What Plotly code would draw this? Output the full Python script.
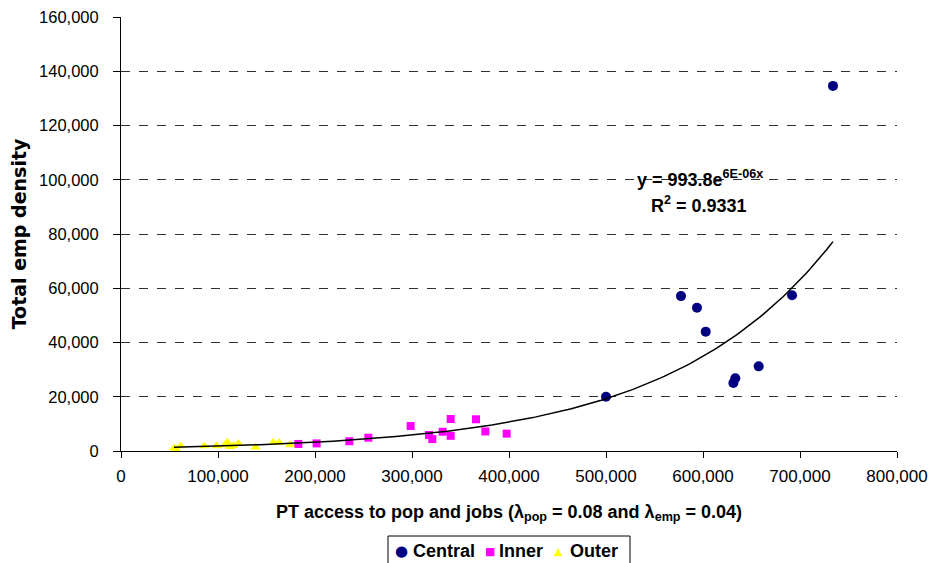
import numpy as np
import plotly.graph_objects as go

# PT accessibility (x) vs total employment density (y), by zone type
central_x = [500000, 577300, 593800, 602800, 657400, 633300, 631300, 691800, 734000]
central_y = [20000, 57100, 52800, 44000, 31200, 26800, 25100, 57400, 134600]

inner_x = [182800, 201700, 235400, 255000, 298600, 317500, 320900, 331600,
           339900, 339900, 366000, 375600, 397600]
inner_y = [2600, 2800, 3600, 4900, 9200, 5900, 4400, 7100,
           11800, 5600, 11700, 7200, 6400]

outer_x = [54600, 56700, 61400, 85900, 98600, 107200, 109600, 112400,
           115800, 121000, 138800, 157000, 163200, 174200]
outer_y = [1100, 600, 1800, 1800, 1800, 2200, 3200, 1600,
           1900, 2800, 1400, 3100, 3100, 2200]

# exponential trendline y = a * exp(b x)
trend_a = 993.8
trend_b = 5.93e-6
r_squared = 0.9331

x_ticks = [0, 100000, 200000, 300000, 400000, 500000, 600000, 700000, 800000]
y_ticks = [0, 20000, 40000, 60000, 80000, 100000, 120000, 140000, 160000]

series_names = ["Central", "Inner", "Outer"]
series_colors = ["#000080", "#FF00FF", "#FFFF00"]
series_symbols = ["circle", "square", "triangle-up"]
legend_glyphs = ["●", "■", "▲"]

FONT = "Liberation Sans, Arial, sans-serif"

W, H = 934, 563
ML, MR, MT, MB = 121, 37, 17, 112
PW, PH = W - ML - MR, H - MT - MB


def px_to_paper(px, py):
    return (px - ML) / PW, (H - MB - py) / PH


all_x = central_x + inner_x + outer_x
tx = np.linspace(min(all_x), max(all_x), 200)
ty = trend_a * np.exp(trend_b * tx)

fig = go.Figure()
for name, xs, ys, col, sym, sz in zip(
        series_names, [central_x, inner_x, outer_x], [central_y, inner_y, outer_y],
        series_colors, series_symbols, [10, 8, 9]):
    fig.add_trace(go.Scatter(
        x=xs, y=ys, mode="markers", name=name, showlegend=False,
        marker=dict(symbol=sym, size=sz, color=col)))
fig.add_trace(go.Scatter(
    x=tx, y=ty, mode="lines", showlegend=False, hoverinfo="skip",
    line=dict(color="black", width=1.5)))

# trendline equation and fit quality
fig.add_annotation(
    x=597000, y=100600, xref="x", yref="y",
    text="<b>y = 993.8e<sup>6E-06x</sup></b>", showarrow=False,
    font=dict(family=FONT, size=18, color="black"))
fig.add_annotation(
    x=596000, y=90700, xref="x", yref="y",
    text="<b>R<sup>2</sup> = %.4f</b>" % r_squared, showarrow=False,
    font=dict(family=FONT, size=18, color="black"))

# boxed legend below the axis title
bx0, by0 = px_to_paper(388, 536)
bx1, by1 = px_to_paper(630, 576)
fig.add_shape(type="rect", xref="paper", yref="paper",
              x0=bx0, x1=bx1, y0=by0, y1=by1,
              line=dict(color="black", width=1), fillcolor="white", layer="above")
glyph_px = [401.5, 489.5, 558]
text_px = [411, 496.5, 567.5]
glyph_sizes = [15, 11, 11]
leg_y = 551
for name, col, g, gx, tx0, gs in zip(series_names, series_colors, legend_glyphs,
                                     glyph_px, text_px, glyph_sizes):
    gxp, gyp = px_to_paper(gx, leg_y)
    fig.add_annotation(x=gxp, y=gyp, xref="paper", yref="paper", text=g,
                       showarrow=False, xanchor="center", yanchor="middle",
                       font=dict(family="DejaVu Sans, sans-serif", size=gs, color=col))
    txp, typ = px_to_paper(tx0, leg_y)
    fig.add_annotation(x=txp, y=typ, xref="paper", yref="paper",
                       text="<b>%s</b>" % name, showarrow=False,
                       xanchor="left", yanchor="middle",
                       font=dict(family=FONT, size=18, color="black"))

fig.update_layout(
    width=W, height=H,
    margin=dict(l=ML, r=MR, t=MT, b=MB),
    paper_bgcolor="white", plot_bgcolor="white",
    font=dict(family=FONT, size=17, color="black"),
    showlegend=False,
    xaxis=dict(
        range=[0, 800000], tickvals=x_ticks, tickformat=",d",
        showgrid=False, zeroline=False, automargin=False,
        showline=True, linecolor="black", linewidth=1,
        ticks="outside", ticklen=6, tickcolor="black",
        ticklabelstandoff=4,
        tickfont=dict(family=FONT, size=17),
        title=dict(
            text="<b>PT access to pop and jobs (λ<sub>pop</sub> = 0.08 and λ<sub>emp</sub> = 0.04)</b>",
            font=dict(family=FONT, size=18), standoff=19)),
    yaxis=dict(
        range=[0, 160000], tickvals=y_ticks, tickformat=",d",
        showgrid=True, gridcolor="#303030", griddash="dash", gridwidth=1,
        zeroline=False, automargin=False,
        showline=True, linecolor="black", linewidth=1,
        ticks="outside", ticklen=7, tickcolor="black",
        ticklabelstandoff=11,
        tickfont=dict(family=FONT, size=16.5),
        title=dict(text="<b>Total emp density</b>",
                   font=dict(family="DejaVu Sans, sans-serif", size=19),
                   standoff=7)),
)

fig.write_html("out.html")
